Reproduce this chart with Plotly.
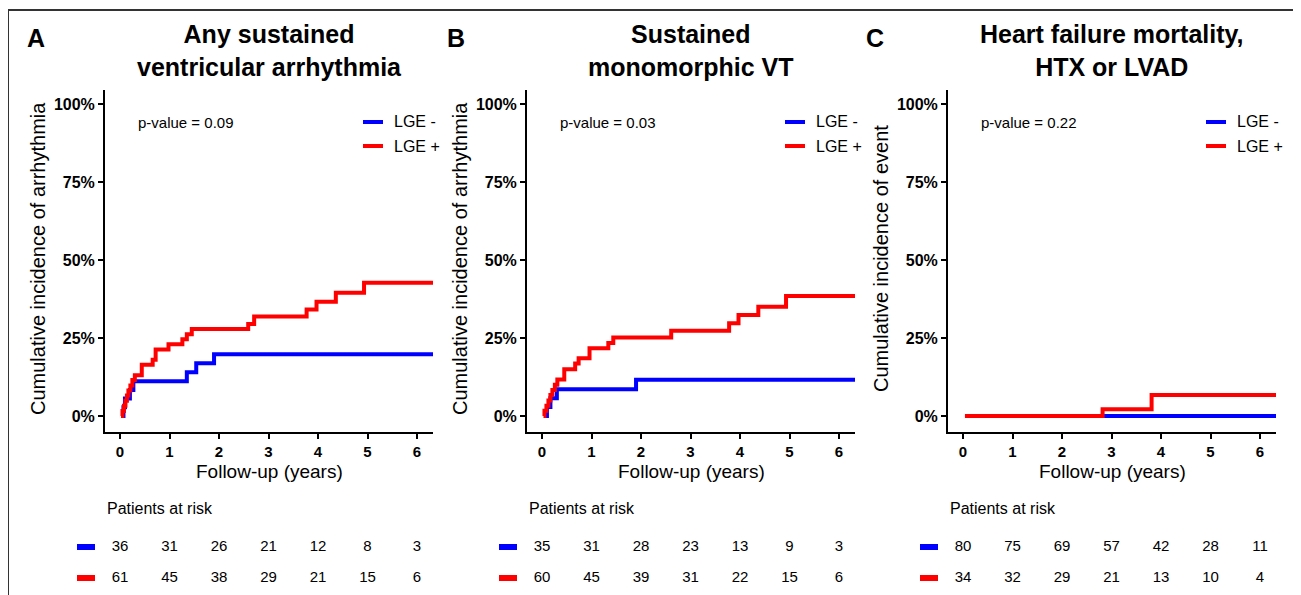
import plotly.graph_objects as go

# ---------------- data ----------------
years = [0, 1, 2, 3, 4, 5, 6]

A_neg_t = [0.05, 0.07, 0.10, 0.20, 0.27, 1.35, 1.54, 1.90, 6.33]
A_neg_y = [0, 2.8, 5.6, 8.3, 11.1, 14.0, 16.9, 19.8, 19.8]
A_pos_t = [0.02, 0.05, 0.08, 0.11, 0.14, 0.17, 0.21, 0.25, 0.30, 0.44, 0.66, 0.72, 0.98,
           1.26, 1.35, 1.45, 2.59, 2.71, 3.77, 3.97, 4.36, 4.93, 6.33]
A_pos_y = [0, 1.6, 3.3, 4.9, 6.6, 8.2, 9.8, 11.5, 13.1, 16.4, 18.0, 21.3, 23.0,
           24.6, 26.2, 27.9, 29.5, 31.9, 34.1, 36.6, 39.5, 42.7, 42.7]

B_neg_t = [0.08, 0.10, 0.17, 0.30, 1.90, 6.35]
B_neg_y = [0, 2.9, 5.7, 8.6, 11.6, 11.6]
B_pos_t = [0.03, 0.05, 0.09, 0.13, 0.17, 0.21, 0.26, 0.31, 0.45, 0.67, 0.74, 0.96,
           1.34, 1.44, 2.61, 3.78, 3.97, 4.37, 4.93, 6.35]
B_pos_y = [0, 1.7, 3.3, 5.0, 6.7, 8.3, 10.0, 11.7, 15.0, 16.8, 18.5, 21.7,
           23.4, 25.2, 27.3, 29.7, 32.4, 35.0, 38.5, 38.5]

C_neg_t = [0.04, 6.38]
C_neg_y = [0, 0]
C_pos_t = [0.04, 2.82, 3.81, 6.38]
C_pos_y = [0, 2.2, 6.7, 6.7]

A_risk_neg = [36, 31, 26, 21, 12, 8, 3]
A_risk_pos = [61, 45, 38, 29, 21, 15, 6]
B_risk_neg = [35, 31, 28, 23, 13, 9, 3]
B_risk_pos = [60, 45, 39, 31, 22, 15, 6]
C_risk_neg = [80, 75, 69, 57, 42, 28, 11]
C_risk_pos = [34, 32, 29, 21, 13, 10, 4]

panel_letters = ["A", "B", "C"]
panel_titles = ["Any sustained<br>ventricular arrhythmia",
                "Sustained<br>monomorphic VT",
                "Heart failure mortality,<br>HTX or LVAD"]
y_titles = ["Cumulative incidence of arrhythmia",
            "Cumulative incidence of arrhythmia",
            "Cumulative incidence of event"]
p_values = ["p-value = 0.09", "p-value = 0.03", "p-value = 0.22"]
series_names = ["LGE -", "LGE +"]
y_tick_vals = [0, 25, 50, 75, 100]
y_tick_text = ["0%", "25%", "50%", "75%", "100%"]

# ---------------- layout helpers ----------------
W, H = 1301, 595
PAGE_OFF = 8          # the html body margin shifts the figure by 8px
FONT = "Liberation Sans, Arial, sans-serif"
BLUE, RED = "#0000FF", "#FF0000"

def px(x):
    return (x - PAGE_OFF) / W

def py(y):
    return 1 - (y - PAGE_OFF) / H

panel_x0 = [105, 527, 948]       # left edge of each plot area (page px)
panel_w = 328
plot_top, plot_bot = 90, 432
xr = [-0.303, 6.323]
yr = [-5.13, 104.5]

curves = [(A_neg_t, A_neg_y, A_pos_t, A_pos_y),
          (B_neg_t, B_neg_y, B_pos_t, B_pos_y),
          (C_neg_t, C_neg_y, C_pos_t, C_pos_y)]
risks = [(A_risk_neg, A_risk_pos), (B_risk_neg, B_risk_pos), (C_risk_neg, C_risk_pos)]

fig = go.Figure()
layout = dict(
    width=W, height=H, margin=dict(l=0, r=0, t=0, b=0),
    paper_bgcolor="white", plot_bgcolor="white",
    showlegend=False, font=dict(family=FONT, color="black"),
)
annotations = []
shapes = []

for i in range(3):
    k = i + 1
    kt = i + 4
    x0 = panel_x0[i]
    dom = [px(x0), px(x0 + panel_w)]
    xa = "x" if k == 1 else f"x{k}"
    ya = "y" if k == 1 else f"y{k}"
    xt = f"x{kt}"
    yt = f"y{kt}"
    xkey = "xaxis" if k == 1 else f"xaxis{k}"
    ykey = "yaxis" if k == 1 else f"yaxis{k}"

    layout[xkey] = dict(domain=dom, range=xr, anchor=ya, showgrid=False, zeroline=False,
                        showline=True, linecolor="black", linewidth=2,
                        ticks="outside", ticklen=5, tickwidth=1.5, tickcolor="black",
                        tickvals=years, tickfont=dict(size=15, weight="bold", color="black"))
    layout[ykey] = dict(domain=[py(plot_bot), py(plot_top)], range=yr, anchor=xa,
                        showgrid=False, zeroline=False,
                        showline=True, linecolor="black", linewidth=2,
                        ticks="outside", ticklen=5, tickwidth=1.5, tickcolor="black",
                        tickvals=y_tick_vals, ticktext=y_tick_text,
                        tickfont=dict(size=16, weight="bold", color="black"))
    layout[f"xaxis{kt}"] = dict(domain=dom, range=xr, anchor=yt, visible=False)
    layout[f"yaxis{kt}"] = dict(domain=[py(593), py(532)], range=[0.5, 2.5], anchor=xt,
                                visible=False)

    nt, ny, pt, pyv = curves[i]
    fig.add_trace(go.Scatter(x=nt, y=ny, mode="lines", line=dict(color=BLUE, width=4, shape="hv"),
                             name=series_names[0], xaxis=xa, yaxis=ya))
    fig.add_trace(go.Scatter(x=pt, y=pyv, mode="lines", line=dict(color=RED, width=4, shape="hv"),
                             name=series_names[1], xaxis=xa, yaxis=ya))

    rn, rp = risks[i]
    fig.add_trace(go.Scatter(x=years, y=[2] * 7, mode="text", text=[str(v) for v in rn],
                             textfont=dict(size=15, color="black"), xaxis=xt, yaxis=yt))
    fig.add_trace(go.Scatter(x=years, y=[1] * 7, mode="text", text=[str(v) for v in rp],
                             textfont=dict(size=15, color="black"), xaxis=xt, yaxis=yt))

    off = x0 - 105
    cx = x0 + panel_w / 2
    # panel letter and title
    annotations.append(dict(text=f"<b>{panel_letters[i]}</b>", x=px(36 + off * 0.995), y=py(38),
                            xref="paper", yref="paper", showarrow=False,
                            xanchor="center", yanchor="middle", font=dict(size=25)))
    annotations.append(dict(text=f"<b>{panel_titles[i]}</b>", x=px(cx), y=py(51),
                            xref="paper", yref="paper", showarrow=False,
                            xanchor="center", yanchor="middle", font=dict(size=25)))
    # y-axis title
    annotations.append(dict(text=y_titles[i], x=px(38 + off), y=py(259), textangle=-90,
                            xref="paper", yref="paper", showarrow=False,
                            xanchor="center", yanchor="middle", font=dict(size=20)))
    # x-axis title
    annotations.append(dict(text="Follow-up (years)", x=px(cx), y=py(471),
                            xref="paper", yref="paper", showarrow=False,
                            xanchor="center", yanchor="middle", font=dict(size=19)))
    # p-value
    annotations.append(dict(text=p_values[i], x=px(136 + off), y=py(123),
                            xref="paper", yref="paper", showarrow=False,
                            xanchor="left", yanchor="middle", font=dict(size=15)))
    # legend
    for j, (col, yy) in enumerate([(BLUE, 122), (RED, 146)]):
        shapes.append(dict(type="line", xref="paper", yref="paper",
                           x0=px(363 + off), x1=px(383 + off), y0=py(yy), y1=py(yy),
                           line=dict(color=col, width=4)))
        annotations.append(dict(text=series_names[j], x=px(392 + off), y=py(yy),
                                xref="paper", yref="paper", showarrow=False,
                                xanchor="left", yanchor="middle", font=dict(size=16)))
    # risk table header and keys
    annotations.append(dict(text="Patients at risk", x=px(105 + off), y=py(508),
                            xref="paper", yref="paper", showarrow=False,
                            xanchor="left", yanchor="middle", font=dict(size=16)))
    for col, yy in [(BLUE, 547), (RED, 578)]:
        shapes.append(dict(type="line", xref="paper", yref="paper",
                           x0=px(77 + off), x1=px(95 + off), y0=py(yy), y1=py(yy),
                           line=dict(color=col, width=6)))

# outer frame
shapes.append(dict(type="rect", xref="paper", yref="paper",
                   x0=px(8), x1=px(1297), y0=py(640), y1=py(10),
                   line=dict(color="#333333", width=2), fillcolor="rgba(0,0,0,0)"))

layout["annotations"] = annotations
layout["shapes"] = shapes
fig.update_layout(**layout)
fig.write_html("out.html")
